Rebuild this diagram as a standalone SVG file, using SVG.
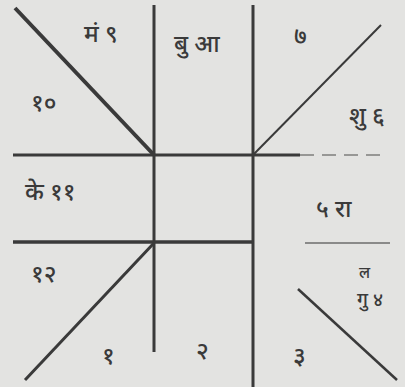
<svg xmlns="http://www.w3.org/2000/svg" width="405" height="387" viewBox="0 0 405 387">
<style>
.bg{fill:#e3e3e1}
.ln{stroke:#3a3a3a;stroke-linecap:butt;fill:none}
.t{font-family:"Noto Sans","Noto Sans Devanagari","Lohit Devanagari",sans-serif;font-size:24px;font-weight:500;fill:#3a3a3a}
.s{font-size:19px}
.xs{font-size:16px}
</style>
<rect class="bg" x="0" y="0" width="405" height="387"/>
<g id="connectors">
<line class="ln" x1="154" y1="5" x2="154" y2="352" stroke-width="3"/>
<line class="ln" x1="253" y1="5" x2="253" y2="387" stroke-width="3"/>
<line class="ln" x1="13" y1="155" x2="300" y2="155" stroke-width="3"/>
<line class="ln" x1="300" y1="155" x2="388" y2="155" stroke-width="1.5" stroke-dasharray="14 8" opacity="0.6"/>
<line class="ln" x1="13" y1="242" x2="253" y2="242" stroke-width="3.5"/>
<line class="ln" x1="305" y1="243" x2="390" y2="243" stroke-width="1.5" opacity="0.7"/>
<line class="ln" x1="15" y1="8" x2="154" y2="155" stroke-width="4"/>
<line class="ln" x1="253" y1="155" x2="381" y2="25" stroke-width="2"/>
<line class="ln" x1="154" y1="243" x2="25" y2="380" stroke-width="3"/>
<line class="ln" x1="298" y1="289" x2="397" y2="380" stroke-width="2.5"/>
</g>
<g id="h9"><text class="t" x="84" y="42">मं ९</text></g>
<g id="h10"><text class="t" x="31" y="111">१०</text></g>
<g id="h8"><text class="t" x="174" y="52">बु आ</text></g>
<g id="h7"><text class="t" x="294" y="44">७</text></g>
<g id="h6"><text class="t" x="349" y="124">शु ६</text></g>
<g id="h11"><text class="t" x="25" y="200">के ११</text></g>
<g id="h5"><text class="t" x="316" y="217">५ रा</text></g>
<g id="h12"><text class="t" x="31" y="282">१२</text></g>
<g id="h4"><text class="t xs" x="359" y="278">ल</text><text class="t s" x="357" y="306">गु ४</text></g>
<g id="h1"><text class="t" x="102" y="364">१</text></g>
<g id="h2"><text class="t" x="196" y="359">२</text></g>
<g id="h3"><text class="t" x="293" y="364">३</text></g>
</svg>
